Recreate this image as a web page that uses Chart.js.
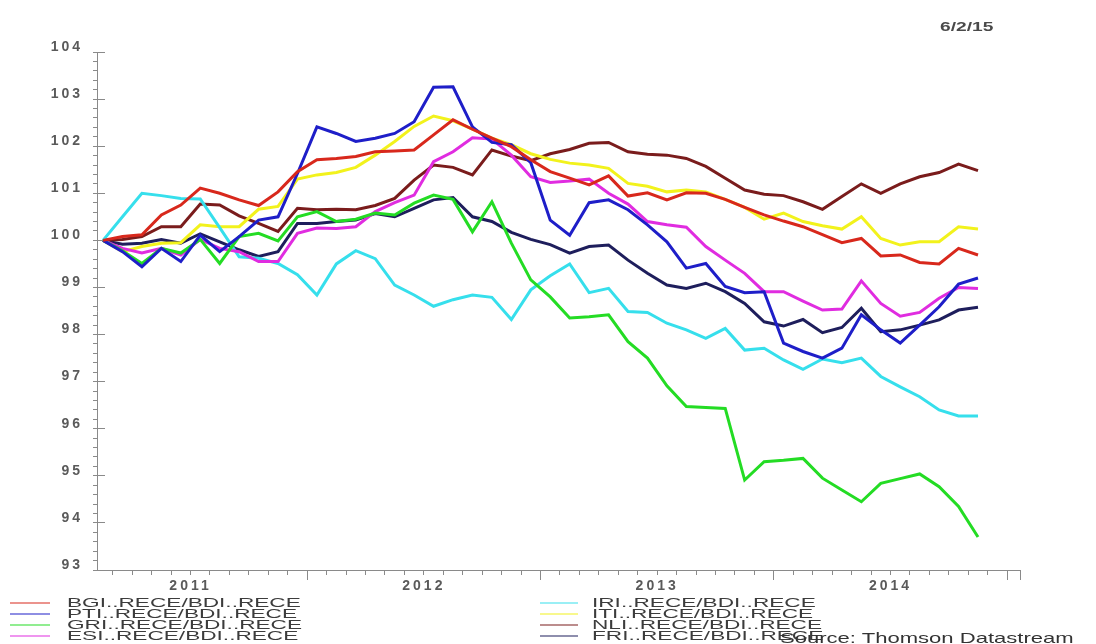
<!DOCTYPE html>
<html><head><meta charset="utf-8">
<script src="https://cdn.jsdelivr.net/npm/chart.js@4/dist/chart.umd.min.js"></script>
<style>
html,body{margin:0;padding:0;background:#fff;}
#wrap{position:relative;width:1096px;height:644px;overflow:hidden;font-family:"Liberation Sans",Arial,sans-serif;}
#c{position:absolute;left:0;top:0;}
.txt{position:absolute;white-space:nowrap;transform-origin:0 50%;line-height:14px;height:14px;}
.leg{position:absolute;height:2px;}
</style></head><body>
<div id="wrap"><canvas id="c" width="1096" height="644"></canvas></div>
<script>
// ---- data (monthly, Feb 2011 .. Nov 2014) ----
const periods = [];
for (let y = 2011; y <= 2014; y++) for (let m = 1; m <= 12; m++) {
  if ((y === 2011 && m < 2) || (y === 2014 && m > 11)) continue;
  periods.push(y + '-' + String(m).padStart(2, '0'));
}
const seriesNames = ['BGI..RECE/BDI..RECE','PTI..RECE/BDI..RECE','GRI..RECE/BDI..RECE','ESI..RECE/BDI..RECE',
                     'IRI..RECE/BDI..RECE','ITI..RECE/BDI..RECE','NLI..RECE/BDI..RECE','FRI..RECE/BDI..RECE'];
const BGI = [100,100.08,100.12,100.54,100.75,101.11,101.00,100.86,100.74,101.03,101.46,101.71,
  101.74,101.78,101.88,101.90,101.92,102.24,102.56,102.36,102.17,101.99,101.71,101.46,
  101.32,101.18,101.37,100.94,101.01,100.86,101.01,101.00,100.87,100.70,100.54,
  100.41,100.29,100.12,99.95,100.04,99.67,99.69,99.53,99.50,99.83,99.69];
const PTI = [100,99.76,99.44,99.83,99.55,100.11,99.76,100.08,100.43,100.50,101.42,102.41,
  102.27,102.10,102.17,102.27,102.52,103.25,103.26,102.41,102.08,102.03,101.65,100.43,
  100.11,100.80,100.86,100.65,100.33,99.97,99.41,99.51,99.02,98.89,98.91,
  97.82,97.64,97.50,97.71,98.42,98.10,97.82,98.20,98.59,99.07,99.20];
const GRI = [100,99.78,99.51,99.83,99.73,100.02,99.51,100.08,100.15,99.99,100.50,100.61,
  100.40,100.45,100.58,100.54,100.79,100.96,100.87,100.18,100.82,99.94,99.16,98.80,
  98.35,98.38,98.42,97.85,97.50,96.91,96.47,96.45,96.43,94.91,95.30,
  95.33,95.37,94.95,94.70,94.45,94.84,94.94,95.04,94.77,94.35,93.70];
const ESI = [100,99.83,99.73,99.83,99.69,100.02,99.83,99.76,99.55,99.55,100.15,100.26,
  100.25,100.29,100.61,100.80,100.96,101.67,101.88,102.18,102.15,101.81,101.35,101.23,
  101.26,101.30,101.00,100.77,100.40,100.33,100.28,99.87,99.58,99.30,98.91,
  98.91,98.71,98.52,98.54,99.14,98.66,98.39,98.47,98.77,99.00,98.98];
const IRI = [100,100.50,101.00,100.95,100.89,100.88,100.27,99.65,99.62,99.51,99.27,98.84,
  99.50,99.78,99.61,99.05,98.84,98.60,98.74,98.84,98.79,98.32,98.95,99.25,
  99.50,98.89,98.98,98.49,98.47,98.24,98.10,97.92,98.13,97.67,97.71,
  97.46,97.26,97.48,97.40,97.50,97.11,96.89,96.68,96.40,96.27,96.27];
const ITI = [100,99.76,99.87,99.94,99.95,100.33,100.29,100.29,100.66,100.72,101.30,101.39,
  101.44,101.55,101.81,102.10,102.42,102.64,102.54,102.36,102.17,102.03,101.84,101.72,
  101.64,101.60,101.53,101.21,101.15,101.03,101.07,101.03,100.87,100.70,100.45,
  100.58,100.40,100.31,100.24,100.50,100.04,99.90,99.97,99.97,100.29,100.24];
const NLI = [100,100.02,100.08,100.29,100.29,100.77,100.75,100.52,100.36,100.19,100.68,100.65,
  100.66,100.65,100.74,100.89,101.28,101.60,101.55,101.39,101.92,101.79,101.69,101.84,
  101.93,102.06,102.08,101.88,101.83,101.81,101.74,101.57,101.32,101.07,100.98,
  100.95,100.82,100.66,100.93,101.20,101.00,101.20,101.35,101.44,101.62,101.48];
const FRI = [100,99.92,99.94,100.02,99.94,100.14,99.97,99.80,99.66,99.76,100.36,100.36,
  100.40,100.43,100.57,100.50,100.68,100.86,100.91,100.50,100.40,100.17,100.02,99.91,
  99.73,99.87,99.90,99.58,99.30,99.05,98.98,99.09,98.91,98.66,98.27,
  98.18,98.32,98.04,98.15,98.56,98.06,98.10,98.20,98.31,98.52,98.58];
const seriesValues = [BGI, PTI, GRI, ESI, IRI, ITI, NLI, FRI];
const seriesColors = ['#d8281c','#1e1ec8','#24dc24','#e02ce0','#36dfec','#f2f21c','#7a1c1c','#1e1e5c'];
const yearLabels = ['2011','2012','2013','2014'];
const yMajorTicks = [93,94,95,96,97,98,99,100,101,102,103,104];
const dateText = '6/2/15';
const sourceText = 'Source: Thomson Datastream';

// month position: Feb 2011 = 0, points plotted mid-month
function monthPos(p){ const [y,m] = p.split('-').map(Number); return (y-2011)*12 + (m-1) - 1; }
const xMin = -0.31, xMax = 47.16, yMin = 93, yMax = 104;
const monthTicks = [];
for (let j = 0; j <= 60; j++) { const v = -1.5 + j; if (v >= xMin && v <= xMax) monthTicks.push(v); }
const yearStartTicks = [];
for (let k = 0; k <= yearLabels.length; k++) { const v = k*12 - 1.5; if (v >= xMin && v <= xMax) yearStartTicks.push(v); }
yearStartTicks.push(xMax);
const yMinorTicks = [];
for (let k = 0; k <= 55; k++) yMinorTicks.push(Math.round((yMin + k*0.2)*10)/10);

function yearLabelAt(v){
  const k = (v - 4.5)/12;
  if (Math.abs(k - Math.round(k)) < 1e-6 && yearLabels[Math.round(k)]) return yearLabels[Math.round(k)];
  return '';
}

Chart.defaults.font.family = "'Liberation Sans', Arial, sans-serif";
const spacingPlugin = {
  id: 'spacing',
  beforeDraw(chart){ try { chart.ctx.letterSpacing = '3px'; } catch(e){} },
  afterDraw(chart){ try { chart.ctx.letterSpacing = '0px'; } catch(e){} }
};

new Chart(document.getElementById('c'), {
  type: 'line',
  data: {
    datasets: seriesNames.map((n, i) => ({
      label: n,
      data: seriesValues[i].map((v, j) => ({x: monthPos(periods[j]), y: v})),
      borderColor: seriesColors[i],
      backgroundColor: seriesColors[i],
      borderWidth: 3,
      pointRadius: 0,
      tension: 0,
      fill: false
    }))
  },
  options: {
    responsive: false,
    animation: false,
    devicePixelRatio: 1,
    layout: { padding: { top: 52, right: 76, left: 0, bottom: 0 } },
    plugins: { legend: { display: false }, tooltip: { enabled: false } },
    scales: {
      x: {
        type: 'linear', position: 'bottom', min: xMin, max: xMax,
        afterBuildTicks(s){ s.ticks = monthTicks.map(v => ({value: v})); },
        afterFit(s){ s.height = 74; },
        ticks: { autoSkip: false, maxRotation: 0, padding: 3, color: '#5a5a5a',
                 font: { size: 14, weight: 'bold' }, callback: v => yearLabelAt(v) },
        grid: { drawOnChartArea: false, tickLength: 5, tickColor: '#8a8a8a', tickWidth: 1 },
        border: { color: '#8a8a8a', width: 1 }
      },
      x2: {
        type: 'linear', position: { y: yMin }, min: xMin, max: xMax,
        afterBuildTicks(s){ s.ticks = yearStartTicks.map(v => ({value: v})); },
        ticks: { autoSkip: false, callback: () => '' },
        grid: { drawOnChartArea: false, tickLength: 10, tickColor: '#8a8a8a', tickWidth: 1 },
        border: { display: false }
      },
      y: {
        type: 'linear', position: 'left', min: yMin, max: yMax,
        afterBuildTicks(s){ s.ticks = yMinorTicks.map(v => ({value: v})); },
        afterFit(s){ s.width = 97; },
        ticks: { autoSkip: false, padding: 10, labelOffset: -5, color: '#5a5a5a', font: { size: 14, weight: 'bold' },
                 callback: v => { const r = Math.round(v); return (Math.abs(v - r) < 1e-6 && yMajorTicks.includes(r)) ? String(r) : ''; } },
        grid: { drawOnChartArea: false, tickLength: 4, tickColor: '#8a8a8a', tickWidth: 1 },
        border: { color: '#8a8a8a', width: 1 }
      },
      y2: {
        type: 'linear', position: { x: xMin }, min: yMin, max: yMax,
        afterBuildTicks(s){ s.ticks = yMajorTicks.map(v => ({value: v})); },
        ticks: { autoSkip: false, callback: () => '' },
        grid: { drawOnChartArea: false, tickLength: -8, tickColor: '#8a8a8a', tickWidth: 1 },
        border: { display: false }
      }
    }
  },
  plugins: [spacingPlugin]
});

// ---- legend / annotations as real text ----
const wrap = document.getElementById('wrap');
function addText(t, left, cy, size, sx, color, weight){
  const d = document.createElement('div');
  d.className = 'txt';
  d.textContent = t;
  d.style.left = left + 'px';
  d.style.top = (cy - 7) + 'px';
  d.style.fontSize = size + 'px';
  d.style.color = color;
  if (weight) d.style.fontWeight = weight;
  d.style.transform = 'scaleX(' + sx + ')';
  wrap.appendChild(d);
}
const rowY = [603, 614, 625, 636];
seriesNames.forEach((n, i) => {
  const col = i < 4 ? 0 : 1;
  const row = i % 4;
  const ln = document.createElement('div');
  ln.className = 'leg';
  ln.style.left = (col ? 540 : 10) + 'px';
  ln.style.width = (col ? 38 : 40) + 'px';
  ln.style.top = (rowY[row] - 1) + 'px';
  ln.style.background = seriesColors[i];
  ln.style.opacity = 0.5;
  wrap.appendChild(ln);
  addText(n, col ? 592 : 67, rowY[row], 13, 1.74, '#3c3c3c');
});
addText(sourceText, 780, 638, 15, 1.47, '#333');
addText(dateText, 940, 27, 12, 1.6, '#4a4a4a', 'bold');
</script>
</body></html>
